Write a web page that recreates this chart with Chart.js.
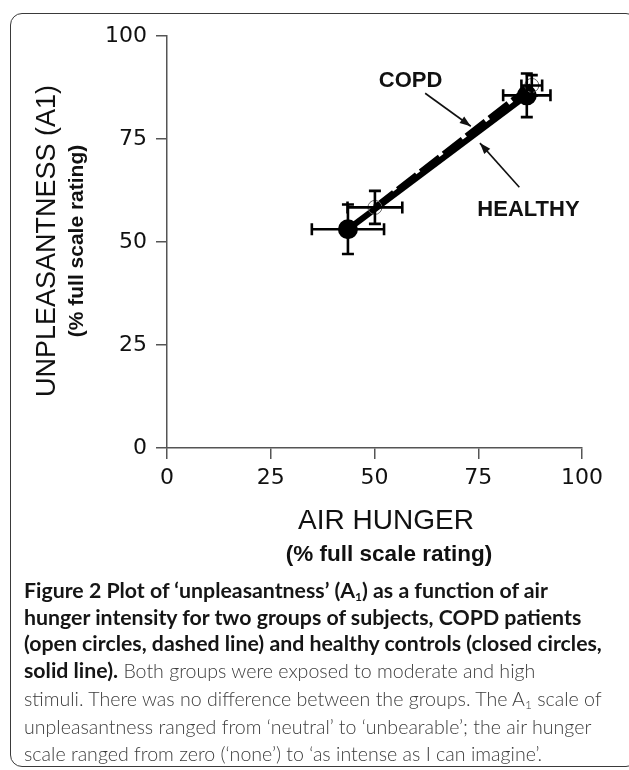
<!DOCTYPE html>
<html>
<head>
<meta charset="utf-8">
<script src="https://cdn.jsdelivr.net/npm/chart.js@4.4.1/dist/chart.umd.min.js"></script>
<style>
    html, body { margin: 0; padding: 0; background: #fff; }
    #page { position: relative; width: 629px; height: 770px; overflow: hidden; background: #fff; }
    #frame {
        position: absolute; left: 10px; top: 13px; width: 628px; height: 754px;
        border: 1.5px solid #3a3a3a; border-radius: 12px; box-sizing: border-box;
    }
    #chartBox { position: absolute; left: 0; top: 0; width: 629px; height: 600px; }
    #caption {
        position: absolute; left: 24px; top: 577px; width: 600px;
        font-family: Lato, "Open Sans", sans-serif; font-size: 21.3px; line-height: 26.7px;
        color: #333; white-space: nowrap;
    }
    #caption b { color: #151515; font-weight: 700; }
    #caption .rest { font-weight: 300; font-size: 19.6px; color: #3c3c3c; }
    #caption sub { font-size: 12px; line-height: 0; vertical-align: -3px; }
</style>
</head>
<body>
<div id="page">
    <div id="frame"></div>
    <div id="chartBox"><canvas id="plot" width="629" height="600"></canvas></div>
    <div id="caption"><b>Figure 2 Plot of ‘unpleasantness’ (A<sub>1</sub>) as a function of air<br>hunger intensity for two groups of subjects, COPD patients<br>(open circles, dashed line) and healthy controls (closed circles,<br>solid line).</b><span class="rest"> Both groups were exposed to moderate and high<br>stimuli. There was no difference between the groups. The A<sub>1</sub> scale of<br>unpleasantness ranged from ‘neutral’ to ‘unbearable’; the air hunger<br>scale ranged from zero (‘none’) to ‘as intense as I can imagine’.</span></div>
</div>
<script>
// tick values (% full scale rating)
const xTicks = [0, 25, 50, 75, 100];
const yTicks = [0, 25, 50, 75, 100];

// COPD patients: moderate and high stimulus
const copdX = [50.1, 87.9];
const copdY = [58.4, 88.0];
const copdXErr = [6.6, 2.5];
const copdYErr = [4.0, 2.5];

// healthy controls
const healthyX = [43.6, 86.7];
const healthyY = [53.1, 85.6];
const healthyXErr = [8.7, 5.7];
const healthyYErr = [6.0, 5.3];

// text labels with pointer lines (data units)
const labelText = ["COPD", "HEALTHY"];
const labelPos = [[58.7, 89.2], [87.1, 57.7]];
const arrowFrom = [[62.2, 86.1], [84.9, 63.3]];
const arrowTo = [[73.2, 78.1], [75.4, 74.0]];

const toPoints = (xs, ys) => xs.map((x, i) => ({ x: x, y: ys[i] }));

// error bars, drawn through the chart scales
const errorBars = {
    id: "errorBars",
    afterDatasetsDraw(chart) {
        const ctx = chart.ctx;
        const xs = chart.scales.x, ys = chart.scales.y;
        const cap = 6;
        ctx.save();
        ctx.strokeStyle = "#000";
        ctx.lineWidth = 2.6;
        chart.data.datasets.forEach(ds => {
            ds.data.forEach((p, i) => {
                const px = xs.getPixelForValue(p.x), py = ys.getPixelForValue(p.y);
                const x0 = xs.getPixelForValue(p.x - ds.xErr[i]);
                const x1 = xs.getPixelForValue(p.x + ds.xErr[i]);
                const y0 = ys.getPixelForValue(p.y - ds.yErr[i]);
                const y1 = ys.getPixelForValue(p.y + ds.yErr[i]);
                ctx.beginPath();
                ctx.moveTo(x0, py); ctx.lineTo(x1, py);
                ctx.moveTo(x0, py - cap); ctx.lineTo(x0, py + cap);
                ctx.moveTo(x1, py - cap); ctx.lineTo(x1, py + cap);
                ctx.moveTo(px, y0); ctx.lineTo(px, y1);
                ctx.moveTo(px - cap, y0); ctx.lineTo(px + cap, y0);
                ctx.moveTo(px - cap, y1); ctx.lineTo(px + cap, y1);
                ctx.stroke();
            });
        });
        ctx.restore();
    }
};

// axis titles and the COPD / HEALTHY pointers
const annotations = {
    id: "annotations",
    afterDraw(chart) {
        const ctx = chart.ctx;
        const xs = chart.scales.x, ys = chart.scales.y;
        ctx.save();
        ctx.fillStyle = "#111";
        ctx.strokeStyle = "#111";

        // y title
        ctx.save();
        ctx.translate(48, 241);
        ctx.rotate(-Math.PI / 2);
        ctx.textAlign = "center";
        ctx.textBaseline = "middle";
        ctx.font = "27px 'Liberation Sans', Arial, sans-serif";
        ctx.fillText("UNPLEASANTNESS (A1)", 0, 0);
        ctx.translate(0, 29);
        ctx.font = "bold 21px 'Liberation Sans', Arial, sans-serif";
        ctx.fillText("(% full scale rating)", 0, 0);
        ctx.restore();

        // x title
        ctx.textAlign = "center";
        ctx.textBaseline = "middle";
        ctx.font = "28px 'Liberation Sans', Arial, sans-serif";
        ctx.fillText("AIR HUNGER", 386, 521);
        ctx.font = "bold 22.5px 'Liberation Sans', Arial, sans-serif";
        ctx.fillText("(% full scale rating)", 389, 555);

        // labels
        ctx.font = "bold 22px 'Liberation Sans', Arial, sans-serif";
        labelText.forEach((t, i) => {
            ctx.fillText(t, xs.getPixelForValue(labelPos[i][0]), ys.getPixelForValue(labelPos[i][1]));
            const ax = xs.getPixelForValue(arrowFrom[i][0]), ay = ys.getPixelForValue(arrowFrom[i][1]);
            const bx = xs.getPixelForValue(arrowTo[i][0]), by = ys.getPixelForValue(arrowTo[i][1]);
            ctx.lineWidth = 1.6;
            ctx.beginPath();
            ctx.moveTo(ax, ay); ctx.lineTo(bx, by);
            ctx.stroke();
            const ang = Math.atan2(by - ay, bx - ax);
            ctx.beginPath();
            ctx.moveTo(bx, by);
            ctx.lineTo(bx - 11 * Math.cos(ang) + 4 * Math.sin(ang), by - 11 * Math.sin(ang) - 4 * Math.cos(ang));
            ctx.lineTo(bx - 11 * Math.cos(ang) - 4 * Math.sin(ang), by - 11 * Math.sin(ang) + 4 * Math.cos(ang));
            ctx.closePath();
            ctx.fill();
        });
        ctx.restore();
    }
};

const axisColor = "#555";
const tickFont = { family: "'DejaVu Sans', Verdana, sans-serif", size: 22 };

new Chart(document.getElementById("plot"), {
    type: "scatter",
    data: {
        datasets: [
            {
                label: "COPD",
                data: toPoints(copdX, copdY),
                xErr: copdXErr,
                yErr: copdYErr,
                showLine: true,
                borderColor: "#000",
                borderWidth: 6,
                borderDash: [24, 5],
                pointRadius: 7,
                pointBackgroundColor: "rgba(255,255,255,0)",
                pointBorderColor: "#666",
                pointBorderWidth: 1,
                order: 1
            },
            {
                label: "HEALTHY",
                data: toPoints(healthyX, healthyY),
                xErr: healthyXErr,
                yErr: healthyYErr,
                showLine: true,
                borderColor: "#000",
                borderWidth: 6,
                pointRadius: 7,
                pointBackgroundColor: "#000",
                pointBorderColor: "#000",
                order: 2
            }
        ]
    },
    options: {
        responsive: false,
        animation: false,
        layout: { padding: { top: 36, right: 47, left: 0, bottom: 0 } },
        plugins: { legend: { display: false }, tooltip: { enabled: false } },
        scales: {
            x: {
                type: "linear",
                min: 0, max: 100,
                afterBuildTicks: s => { s.ticks = xTicks.map(v => ({ value: v })); },
                afterFit: s => { s.height = 152; },
                ticks: { font: tickFont, color: "#111", padding: 6, maxRotation: 0 },
                grid: { drawOnChartArea: false, tickLength: 11, color: axisColor, lineWidth: 1.5 },
                border: { color: axisColor, width: 1.5 }
            },
            y: {
                type: "linear",
                min: 0, max: 100,
                afterBuildTicks: s => { s.ticks = yTicks.map(v => ({ value: v })); },
                afterFit: s => { s.width = 167; },
                ticks: { font: tickFont, color: "#111", padding: 9 },
                grid: { drawOnChartArea: false, tickLength: 11, color: axisColor, lineWidth: 1.5 },
                border: { color: axisColor, width: 1.5 }
            }
        }
    },
    plugins: [errorBars, annotations]
});
</script>
</body>
</html>
